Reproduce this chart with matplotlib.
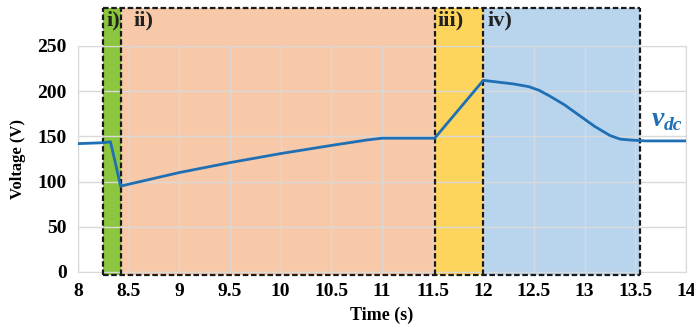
import numpy as np
import matplotlib.pyplot as plt
from matplotlib.patches import Rectangle

plt.rcParams['font.family'] = ['Liberation Serif', 'DejaVu Serif']
plt.rcParams['font.weight'] = 'bold'

# vdc trace
t = [8.0, 8.25, 8.32, 8.36, 8.42, 9.0, 9.5, 10.0, 10.5, 10.85, 11.0, 11.52,
     12.0, 12.15, 12.3, 12.45, 12.55, 12.65, 12.8, 12.95, 13.1, 13.25, 13.35, 13.45,
     13.6, 14.0]
v = [142, 143, 144, 125, 95, 110, 121, 131, 140, 146, 148, 148,
     212, 210, 208, 205, 201, 195, 185, 173, 161, 151, 147, 146,
     145, 145]

# operating stages
stage_names = ['i)', 'ii)', 'iii)', 'iv)']
stage_edges = [8.25, 8.42, 11.52, 12.0, 13.55]
stage_colors = ['#8cc63f', '#f7c9a9', '#fdd55c', '#b9d5ee']
label_offsets = [0.03, 0.13, 0.03, 0.04]

fig = plt.figure(figsize=(6.94, 3.36), dpi=100)
ax = fig.add_axes([0.1124, 0.1905, 0.876, 0.6726])
ax.set_xlim(8, 14)
ax.set_ylim(0, 250)

ytop = 292
ybot = -3
for i in range(4):
    x0, x1 = stage_edges[i], stage_edges[i + 1]
    ax.add_patch(Rectangle((x0, ybot), x1 - x0, ytop - ybot, facecolor=stage_colors[i],
                           edgecolor='none', clip_on=False, zorder=0))
    ax.text(x0 + label_offsets[i], 278, stage_names[i], fontsize=16, fontweight='bold',
            ha='left', va='center', color='#222222')
# dashed outlines
for x in stage_edges:
    ax.plot([x, x], [ybot, ytop], color='#1a1a1a', lw=1.6, clip_on=False, zorder=3,
            dashes=(2.5, 1.2))
for y in [ybot, ytop]:
    ax.plot([stage_edges[0], stage_edges[-1]], [y, y], color='#1a1a1a', lw=1.6, clip_on=False,
            zorder=3, dashes=(2.5, 1.2))

ax.set_xticks(np.arange(8, 14.01, 0.5))
ax.set_xticklabels(['8', '8.5', '9', '9.5', '10', '10.5', '11', '11.5', '12', '12.5', '13', '13.5', '14'])
ax.set_yticks([0, 50, 100, 150, 200, 250])
ax.grid(True, color='#d9d9d9', lw=1)
for g in ax.get_xgridlines() + ax.get_ygridlines():
    g.set_zorder(1)
for s in ax.spines.values():
    s.set_color('#d9d9d9')
ax.tick_params(length=0, labelsize=14, pad=8)
for lab in ax.get_xticklabels() + ax.get_yticklabels():
    lab.set_fontweight('bold')

ax.plot(t, v, color='#1f6fb5', lw=2, zorder=4)
ax.text(13.66, 169, 'v', fontsize=20, style='italic', fontweight='bold', color='#1f6fb5',
        ha='left', va='center')
ax.text(13.78, 162, 'dc', fontsize=14, style='italic', fontweight='bold', color='#1f6fb5',
        ha='left', va='center')

ax.set_xlabel('Time (s)', fontsize=13, fontweight='bold', labelpad=5)
ax.set_ylabel('Voltage (V)', fontsize=12, fontweight='bold', labelpad=8)

fig.savefig('out.png', dpi=100)
